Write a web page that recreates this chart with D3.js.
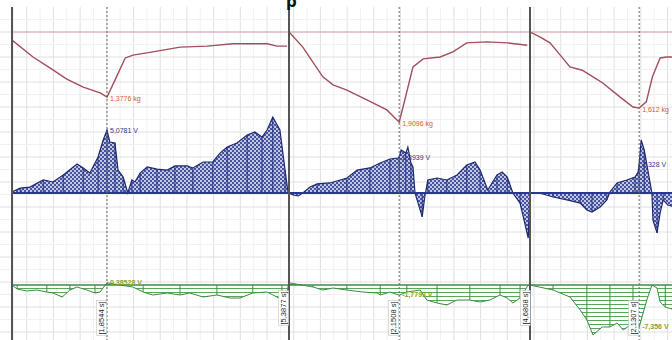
<!DOCTYPE html>
<html>
<head>
<meta charset="utf-8">
<script src="https://cdn.jsdelivr.net/npm/d3@7"></script>
<style>
  body { margin: 0; background: #fff; }
  svg { display: block; font-family: "Liberation Sans", Arial, sans-serif; }
</style>
</head>
<body>
<svg id="chart" width="672" height="340"></svg>
<script>
// three recordings, time in s from the start of each one
const segDurations = [5.39, 4.70, 2.83];
const cursorTimes = [1.8544, 2.1508, 2.1307];
const cursorLabels = ['[1,8544 s]', '[2,1508 s]', '[2,1307 s]'];
const endLabels = ['[5,3877 s]', '[4,6808 s]'];
const weightLabels = ['1,3776 kg', '1,9096 kg', '1,612 kg'];
const voltLabels = ['5,0781 V', '2,8939 V', '2,328 V'];
const greenLabels = ['0,38528 V', '-1,7793 V', '-7,356 V'];

// weight change (kg)
const seg1WeightT = [0, 0.41, 0.74, 1.07, 1.39, 1.72, 1.8544, 2.01, 2.21, 2.36, 2.75, 3.28, 3.81, 4.31, 4.98, 5.17, 5.37];
const seg1Weight = [-0.17, -0.53, -0.76, -1.00, -1.17, -1.29, -1.3776, -1.02, -0.55, -0.49, -0.42, -0.32, -0.30, -0.25, -0.25, -0.30, -0.30];
const seg2WeightT = [0, 0.27, 0.66, 0.86, 1.13, 1.52, 1.91, 2.1508, 2.26, 2.42, 2.62, 2.95, 3.20, 3.47, 3.86, 4.26, 4.65];
const seg2Weight = [0, -0.32, -0.95, -1.12, -1.23, -1.44, -1.65, -1.9096, -1.44, -0.74, -0.57, -0.53, -0.42, -0.23, -0.21, -0.23, -0.28];
const seg3WeightT = [0, 0.20, 0.39, 0.59, 0.78, 1.02, 1.23, 1.42, 1.76, 2.01, 2.1307, 2.27, 2.39, 2.54, 2.67, 2.83];
const seg3Weight = [0, -0.11, -0.23, -0.49, -0.74, -0.81, -0.95, -1.08, -1.38, -1.59, -1.612, -1.48, -0.95, -0.55, -0.53, -0.53];

// blue channel (V)
const seg1VoltT = [0, 0.16, 0.35, 0.61, 0.80, 1.00, 1.27, 1.39, 1.52, 1.68, 1.78, 1.8544, 1.91, 2.01, 2.07, 2.17, 2.26, 2.34, 2.40, 2.50, 2.64, 2.83, 3.03, 3.18, 3.42, 3.53, 3.73, 3.92, 4.06, 4.20, 4.39, 4.59, 4.74, 4.88, 4.98, 5.09, 5.23, 5.33, 5.39];
const seg1Volt = [0.08, 0.40, 0.48, 1.05, 0.89, 1.45, 2.34, 2.02, 1.61, 2.90, 4.27, 5.0781, 4.11, 4.03, 1.85, 1.29, 0, 1.05, 0.89, 1.61, 2.10, 1.93, 1.85, 2.18, 2.18, 2.02, 2.50, 2.50, 3.22, 3.71, 4.03, 4.67, 4.92, 4.51, 5.08, 6.13, 5.08, 1.85, 0];
const seg2VoltT = [0, 0.08, 0.18, 0.27, 0.41, 0.55, 0.80, 1.13, 1.33, 1.58, 1.78, 1.97, 2.13, 2.1508, 2.19, 2.28, 2.32, 2.38, 2.42, 2.46, 2.50, 2.60, 2.65, 2.71, 2.89, 3.08, 3.28, 3.47, 3.63, 3.73, 3.88, 4.06, 4.16, 4.26, 4.37, 4.51, 4.67, 4.70];
const seg2Volt = [0, -0.16, -0.24, 0, 0.48, 0.73, 0.81, 1.21, 1.85, 2.02, 2.42, 2.74, 2.82, 2.8939, 3.47, 3.22, 3.71, 2.42, 2.10, 0, -0.56, -1.93, -0.32, 1.05, 1.21, 1.05, 1.45, 2.26, 2.50, 1.85, 0.24, 1.45, 1.69, 1.29, 0, -0.81, -3.63, 0];
const seg3VoltT = [0, 0.14, 0.25, 0.45, 0.72, 0.98, 1.11, 1.21, 1.37, 1.50, 1.56, 1.70, 1.89, 2.05, 2.11, 2.1307, 2.17, 2.23, 2.30, 2.38, 2.40, 2.48, 2.54, 2.60, 2.69, 2.83];
const seg3Volt = [0, 0, -0.08, -0.32, -0.56, -0.81, -1.37, -1.53, -1.13, -0.56, 0.08, 0.81, 1.05, 1.29, 1.69, 2.328, 4.27, 3.47, 1.85, 0, -2.18, -3.22, -1.61, -0.56, -0.97, -1.13];

// green channel (V)
const seg1GreenT = [0, 0.10, 0.29, 0.49, 0.68, 0.80, 0.98, 1.13, 1.27, 1.46, 1.62, 1.72, 1.82, 1.8544, 2.11, 2.36, 2.56, 2.75, 3.03, 3.28, 3.47, 3.73, 4.00, 4.26, 4.45, 4.70, 4.98, 5.17, 5.27, 5.37, 5.39];
const seg1Green = [0, -0.70, -1.05, -0.88, -1.23, -1.40, -2.10, -0.88, -0.35, -0.88, -1.40, -1.23, 0, 0.385, 0, -0.35, -1.23, -1.75, -1.40, -1.75, -1.40, -2.10, -1.75, -2.28, -2.28, -1.40, -1.23, -2.10, -2.63, -1.75, 0];
const seg2GreenT = [0.02, 0.47, 0.66, 0.86, 1.13, 1.44, 1.72, 1.78, 1.97, 2.1508, 2.30, 2.56, 2.69, 2.89, 3.08, 3.28, 3.53, 3.73, 3.92, 4.12, 4.26, 4.37, 4.51, 4.67, 4.70];
const seg2Green = [0.35, -0.35, -0.88, -0.53, -0.88, -1.23, -1.40, -1.75, -1.23, -1.7793, -1.23, -0.88, -2.63, -3.15, -3.50, -2.63, -2.63, -2.98, -2.63, -1.75, -2.28, -3.15, -2.28, 0, 0];
const seg3GreenT = [0, 0.45, 0.78, 0.98, 1.11, 1.23, 1.41, 1.56, 1.70, 1.82, 2.01, 2.1307, 2.28, 2.38, 2.48, 2.54, 2.64, 2.83];
const seg3Green = [0, -0.88, -2.10, -4.38, -6.13, -8.75, -7.35, -7.35, -6.65, -7.88, -6.65, -7.356, -2.63, 0, -0.53, -2.98, -3.85, -4.38];

const weightData = [d3.zip(seg1WeightT, seg1Weight), d3.zip(seg2WeightT, seg2Weight), d3.zip(seg3WeightT, seg3Weight)];
const voltData = [d3.zip(seg1VoltT, seg1Volt), d3.zip(seg2VoltT, seg2Volt), d3.zip(seg3VoltT, seg3Volt)];
const greenData = [d3.zip(seg1GreenT, seg1Green), d3.zip(seg2GreenT, seg2Green), d3.zip(seg3GreenT, seg3Green)];

const width = 672, height = 340;
const plotTop = 7;
const segLeft = [12, 289, 530];
const pxPerSec = 51.23;

const svg = d3.select('#chart');

const xScales = segLeft.map((left, i) =>
  d3.scaleLinear().domain([0, segDurations[i]]).range([left, left + segDurations[i] * pxPerSec]));
const yWeight = d3.scaleLinear().domain([0, -2]).range([32, 126.4]);
const yVolt = d3.scaleLinear().domain([0, 5]).range([193, 131]);
const yGreen = d3.scaleLinear().domain([0, -8]).range([285, 330.7]);

const defs = svg.append('defs');
const dots = defs.append('pattern').attr('id', 'dots')
  .attr('width', 4).attr('height', 4).attr('patternUnits', 'userSpaceOnUse');
dots.append('rect').attr('width', 4).attr('height', 4).attr('fill', '#4553a0');
dots.append('circle').attr('cx', 1).attr('cy', 1).attr('r', 1).attr('fill', '#eef0f7');
dots.append('circle').attr('cx', 3).attr('cy', 3).attr('r', 1).attr('fill', '#eef0f7');

const hatch = defs.append('pattern').attr('id', 'hatch')
  .attr('width', 6).attr('height', 4).attr('patternUnits', 'userSpaceOnUse');
hatch.append('rect').attr('width', 6).attr('height', 4).attr('fill', '#fff');
hatch.append('line').attr('x1', 0).attr('x2', 6).attr('y1', 0.5).attr('y2', 0.5)
  .attr('stroke', '#5aa65f').attr('stroke-width', 1);

segLeft.forEach((left, i) => {
  const right = i < segLeft.length - 1 ? segLeft[i + 1] : width;
  defs.append('clipPath').attr('id', 'clip' + i)
    .append('rect').attr('x', left).attr('y', plotTop).attr('width', right - left).attr('height', height - plotTop);
});

// grid
const grid = svg.append('g');
d3.range(13.35, width, 13.35).forEach((x, i) => {
  grid.append('line').attr('x1', x).attr('x2', x).attr('y1', plotTop).attr('y2', height)
    .attr('stroke', i % 2 ? '#e0e0e0' : '#f1f1f1').attr('stroke-width', 1);
});
d3.range(plotTop + 12.5, height, 12.5).forEach((y, i) => {
  grid.append('line').attr('x1', 0).attr('x2', width).attr('y1', y).attr('y2', y)
    .attr('stroke', i % 2 ? '#e0e0e0' : '#f1f1f1').attr('stroke-width', 1);
});

// reference line for the weight
svg.append('line').attr('x1', 12).attr('x2', width).attr('y1', yWeight(0)).attr('y2', yWeight(0))
  .attr('stroke', '#dba3ab').attr('stroke-width', 1.2);

segLeft.forEach((left, i) => {
  const x = xScales[i];
  const g = svg.append('g').attr('clip-path', `url(#clip${i})`);

  // blue channel
  g.append('path').datum(voltData[i])
    .attr('d', d3.area().x(d => x(d[0])).y0(yVolt(0)).y1(d => yVolt(d[1])))
    .attr('fill', 'url(#dots)');
  g.selectAll('.vdrop').data(voltData[i].filter((d, j) => j % 2 === 1)).join('line')
    .attr('x1', d => x(d[0])).attr('x2', d => x(d[0]))
    .attr('y1', yVolt(0)).attr('y2', d => yVolt(d[1]))
    .attr('stroke', '#263380').attr('stroke-width', 1);
  g.append('path').datum(voltData[i])
    .attr('d', d3.line().x(d => x(d[0])).y(d => yVolt(d[1])))
    .attr('fill', 'none').attr('stroke', '#1f2a6e').attr('stroke-width', 1.2);

  // green channel
  g.append('path').datum(greenData[i])
    .attr('d', d3.area().x(d => x(d[0])).y0(yGreen(0)).y1(d => yGreen(d[1])))
    .attr('fill', 'url(#hatch)');
  g.selectAll('.gdrop').data(greenData[i].filter((d, j) => j % 3 === 1)).join('line')
    .attr('x1', d => x(d[0])).attr('x2', d => x(d[0]))
    .attr('y1', yGreen(0)).attr('y2', d => yGreen(d[1]))
    .attr('stroke', '#3f8f45').attr('stroke-width', 1);
  g.append('path').datum(greenData[i])
    .attr('d', d3.line().x(d => x(d[0])).y(d => yGreen(d[1])))
    .attr('fill', 'none').attr('stroke', '#3c8a42').attr('stroke-width', 1);

  // weight
  g.append('path').datum(weightData[i])
    .attr('d', d3.line().x(d => x(d[0])).y(d => yWeight(d[1])))
    .attr('fill', 'none').attr('stroke', '#a14f5b').attr('stroke-width', 1.4);
});

// zero lines
svg.append('line').attr('x1', 12).attr('x2', width).attr('y1', yVolt(0)).attr('y2', yVolt(0))
  .attr('stroke', '#2a3790').attr('stroke-width', 2);
svg.append('line').attr('x1', 12).attr('x2', width).attr('y1', yGreen(0)).attr('y2', yGreen(0))
  .attr('stroke', '#3d8c43').attr('stroke-width', 1.5);

// separators
segLeft.forEach(left => {
  svg.append('line').attr('x1', left).attr('x2', left).attr('y1', plotTop).attr('y2', height)
    .attr('stroke', '#555').attr('stroke-width', 2);
});

// cursors
cursorTimes.forEach((t, i) => {
  const xc = xScales[i](t);
  svg.append('line').attr('x1', xc).attr('x2', xc).attr('y1', plotTop).attr('y2', height)
    .attr('stroke', '#666').attr('stroke-width', 1).attr('stroke-dasharray', '2,2');

  svg.append('text').attr('x', xc + 3).attr('y', yWeight(weightData[i].find(d => d[0] === t)[1]) + 2)
    .attr('dominant-baseline', 'middle').attr('font-size', 7).attr('fill', '#d5582a')
    .text(weightLabels[i]);
  svg.append('text').attr('x', xc + 3).attr('y', yVolt(voltData[i].find(d => d[0] === t)[1]) + 1)
    .attr('dominant-baseline', 'middle').attr('font-size', 7).attr('fill', '#2a3a8a')
    .text(voltLabels[i]);
  svg.append('text').attr('x', xc + 3).attr('y', yGreen(greenData[i].find(d => d[0] === t)[1]))
    .attr('dominant-baseline', 'middle').attr('font-size', 7).attr('font-weight', 'bold')
    .attr('fill', '#8fa028').text(greenLabels[i]);
});

// rotated time labels
function timeLabel(x, y, label) {
  const g = svg.append('g').attr('transform', `translate(${x},${y}) rotate(-90)`);
  const t = g.append('text').attr('text-anchor', 'middle').attr('font-size', 7.5)
    .attr('fill', '#222').text(label);
  const b = t.node().getBBox();
  g.insert('rect', 'text').attr('x', b.x - 1).attr('y', b.y - 0.5)
    .attr('width', b.width + 2).attr('height', b.height + 1)
    .attr('fill', '#fff').attr('stroke', '#bbb').attr('stroke-width', 0.5);
}
cursorTimes.forEach((t, i) => timeLabel(xScales[i](t) - 3, 318, cursorLabels[i]));
endLabels.forEach((label, i) => timeLabel(xScales[i](segDurations[i]) - 2, 308, label));

// title glyph cut by the top edge, as in the screenshot
svg.append('text').attr('x', 286).attr('y', 7).attr('font-size', 15).attr('font-weight', 'bold')
  .attr('font-family', 'DejaVu Sans').attr('fill', '#111').text('p');
</script>
</body>
</html>
